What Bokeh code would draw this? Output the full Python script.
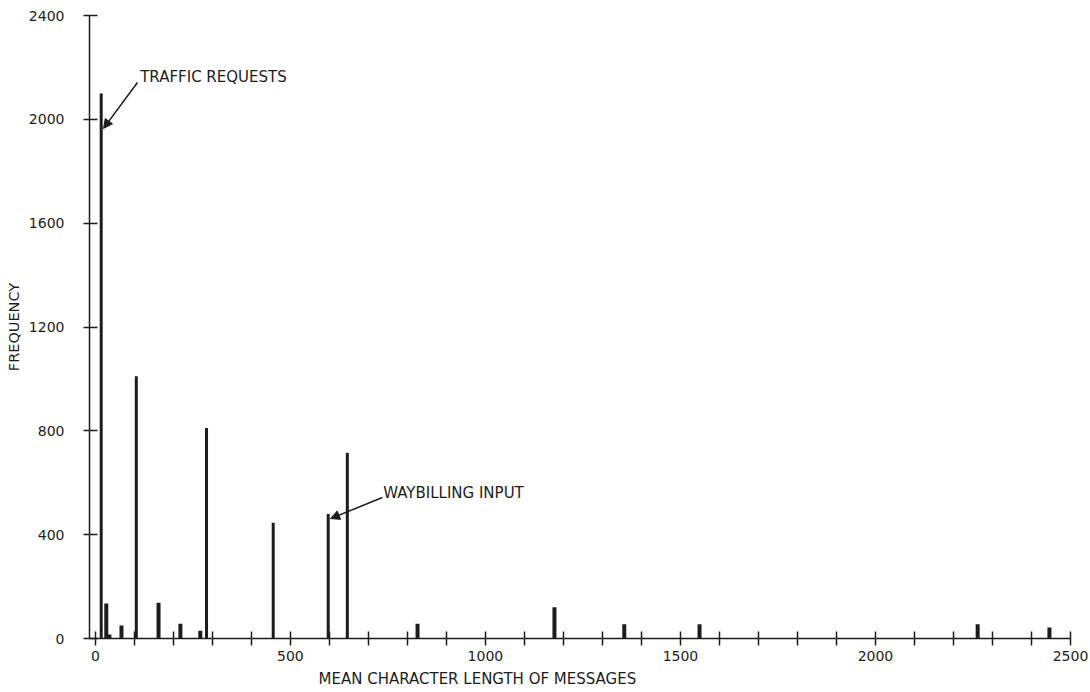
from bokeh.plotting import figure
from bokeh.models import Range1d, FixedTicker, Arrow, NormalHead, Label, Title, ColumnDataSource
from bokeh.embed import file_html
from bokeh.resources import INLINE

# ---- data ----
msg_length = [15, 28, 36, 67, 105, 162, 218, 269, 285, 456, 597, 646, 826, 1177, 1356, 1549, 2262, 2446]
frequency = [2100, 135, 15, 50, 1010, 138, 57, 30, 811, 446, 480, 715, 57, 120, 55, 55, 55, 42]

x_ticks = [0, 500, 1000, 1500, 2000, 2500]
x_tick_labels = ["0", "500", "1000", "1500", "2000", "2500"]
x_minor_ticks = [v for v in range(100, 2500, 100) if v % 500 != 0]
y_ticks = [0, 400, 800, 1200, 1600, 2000, 2400]
y_tick_labels = ["0", "400", "800", "1200", "1600", "2000", "2400"]

x_title = "MEAN CHARACTER LENGTH OF MESSAGES"
y_title = "FREQUENCY"

note_traffic = "TRAFFIC REQUESTS"
note_waybill = "WAYBILLING INPUT"
traffic_idx = 0
waybill_idx = 10

FONT = "DejaVu Sans"
INK = "#1c1c1c"

src = ColumnDataSource(dict(
    x=msg_length,
    top=frequency,
    base=[0] * len(frequency),
    lw=[4 if f < 200 else 3 for f in frequency],
))

p = figure(width=1090, height=692, output_backend="svg", toolbar_location=None,
           x_range=Range1d(-15, 2500), y_range=Range1d(0, 2400),
           min_border_left=89, min_border_right=20, min_border_top=15, min_border_bottom=54)
p.outline_line_color = None
p.grid.visible = False
p.background_fill_color = "white"
p.border_fill_color = "white"

p.segment(x0="x", y0="base", x1="x", y1="top", source=src,
          line_width="lw", line_color=INK, line_cap="butt")

# axes
xa = p.xaxis[0]
xa.ticker = FixedTicker(ticks=x_ticks, minor_ticks=x_minor_ticks)
xa.major_label_overrides = {t: l for t, l in zip(x_ticks, x_tick_labels)}
ya = p.yaxis[0]
ya.ticker = FixedTicker(ticks=y_ticks, minor_ticks=[])
ya.major_label_overrides = {t: l for t, l in zip(y_ticks, y_tick_labels)}
ya.axis_label = y_title

for ax in (xa, ya):
    ax.axis_line_color = INK
    ax.axis_line_width = 1.5
    ax.major_tick_line_color = INK
    ax.major_tick_line_width = 1.5
    ax.minor_tick_line_color = INK
    ax.minor_tick_line_width = 1.5
    ax.major_label_text_font = FONT
    ax.major_label_text_font_size = "14px"
    ax.major_label_text_color = INK
    ax.axis_label_text_font = FONT
    ax.axis_label_text_font_size = "14.5px"
    ax.axis_label_text_font_style = "normal"
    ax.axis_label_text_color = INK

xa.major_tick_in = 7
xa.major_tick_out = 7
xa.minor_tick_in = 7
xa.minor_tick_out = 7
xa.major_label_standoff = 5

ya.major_tick_in = 8
ya.major_tick_out = 6
ya.major_label_standoff = 19
ya.axis_label_standoff = 4

# x-axis title below the tick labels, offset to the left as in the original
p.add_layout(Title(text=x_title, align="left", offset=229, standoff=8,
                   text_font=FONT, text_font_size="15px", text_font_style="normal",
                   text_color=INK), "below")

# annotations
tx, ty = msg_length[traffic_idx], frequency[traffic_idx]
p.add_layout(Arrow(end=NormalHead(size=9, fill_color=INK, line_color=INK),
                   x_start=tx + 93, y_start=ty + 42, x_end=tx + 6, y_end=ty - 135,
                   line_color=INK, line_width=1.5))
p.add_layout(Label(x=tx + 100, y=ty + 62, text=note_traffic, text_font=FONT,
                   text_font_size="15px", text_color=INK, text_baseline="middle"))

wx, wy = msg_length[waybill_idx], frequency[waybill_idx]
p.add_layout(Arrow(end=NormalHead(size=9, fill_color=INK, line_color=INK),
                   x_start=wx + 139, y_start=wy + 63, x_end=wx + 6, y_end=wy - 18,
                   line_color=INK, line_width=1.5))
p.add_layout(Label(x=wx + 141, y=wy + 82, text=note_waybill, text_font=FONT,
                   text_font_size="15px", text_color=INK, text_baseline="middle"))

open("out.html", "w").write(file_html(p, INLINE))
